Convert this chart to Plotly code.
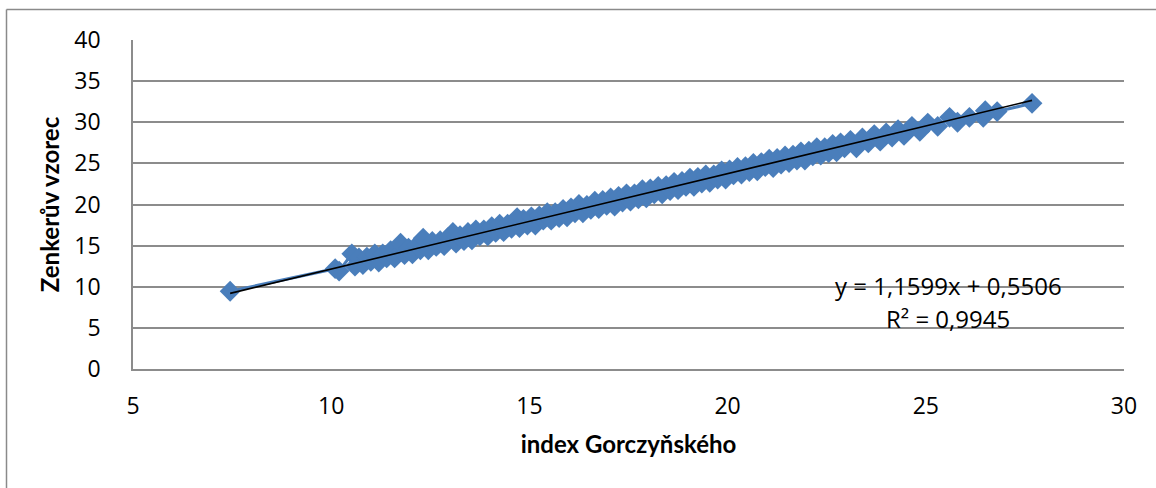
import plotly.graph_objects as go

# ---- data ----
x_vals = [7.45, 10.1, 10.2, 10.52, 10.6, 10.7, 10.8, 10.9, 11.0, 11.1, 11.2, 11.3, 11.4, 11.5, 11.6,
          11.75, 11.85, 11.95, 12.05, 12.15, 12.25, 12.32, 12.45, 12.55, 12.65, 12.75, 12.85, 12.95,
          13.07, 13.15, 13.25, 13.35, 13.45, 13.55, 13.65, 13.75, 13.85, 13.95, 14.05, 14.15, 14.25,
          14.35, 14.45, 14.55, 14.69, 14.75, 14.85, 14.95, 15.05, 15.15, 15.25, 15.35, 15.45, 15.55,
          15.65, 15.75, 15.85, 15.95, 16.05, 16.15, 16.25, 16.35, 16.45, 16.55, 16.65, 16.75, 16.85,
          16.95, 17.05, 17.15, 17.25, 17.35, 17.45, 17.55, 17.65, 17.75, 17.85, 17.95, 18.05, 18.15,
          18.25, 18.35, 18.45, 18.55, 18.65, 18.75, 18.85, 18.95, 19.05, 19.15, 19.25, 19.35, 19.45,
          19.55, 19.65, 19.75, 19.85, 19.95, 20.05, 20.15, 20.25, 20.35, 20.45, 20.55, 20.65, 20.75,
          20.85, 20.95, 21.05, 21.15, 21.25, 21.35, 21.45, 21.55, 21.65, 21.75, 21.85, 21.95, 22.05,
          22.15, 22.25, 22.35, 22.45, 22.55, 22.65, 22.75, 22.85, 22.95, 23.1, 23.25, 23.4, 23.55,
          23.7, 23.85, 24.0, 24.15, 24.3, 24.45, 24.65, 24.85, 25.05, 25.3, 25.6, 25.8, 26.1, 26.45,
          26.5, 26.8, 27.68]
y_vals = [9.45, 12.2, 11.9, 14.0, 12.5, 13.5, 12.7, 13.6, 13.1, 14.0, 13.0, 14.0, 13.5, 14.4, 13.5,
          15.3, 13.9, 14.7, 14.0, 15.0, 14.5, 15.9, 14.5, 15.5, 14.9, 15.6, 15.0, 16.0,
          16.6, 15.3, 16.2, 15.6, 16.6, 15.7, 16.9, 16.2, 16.9, 16.2, 17.3, 16.6, 17.6,
          16.7, 17.6, 17.1, 18.4, 17.2, 18.2, 17.5, 18.5, 17.5, 18.6, 18.1, 19.0, 18.1,
          19.0, 18.4, 19.4, 18.5, 19.6, 19.0, 20.0, 19.0, 19.9, 19.4, 20.4, 19.5, 20.5,
          19.9, 20.8, 19.8, 21.0, 20.3, 21.3, 20.4, 21.3, 20.7, 21.8, 20.8, 21.9, 21.3,
          22.2, 21.3, 22.3, 21.7, 22.7, 21.8, 22.8, 22.2, 23.2, 22.2, 23.3, 22.6, 23.6,
          22.7, 23.6, 23.1, 24.1, 23.1, 24.2, 23.6, 24.5, 23.7, 24.6, 24.0, 25.0, 24.1,
          25.1, 24.6, 25.5, 24.5, 25.6, 24.9, 25.9, 25.1, 26.0, 25.4, 26.4, 25.4, 26.5,
          25.9, 26.9, 26.0, 26.9, 26.3, 27.3, 26.4, 27.5, 26.9, 27.8, 26.9, 28.1, 27.5,
          28.5, 27.7, 28.7, 28.2, 29.1, 28.4, 29.5, 28.9, 29.9, 29.5, 30.6, 30.0, 30.6, 30.6,
          31.4, 31.3, 32.3]

slope = 1.1599
intercept = 0.5506
eq_text = "y = 1,1599x + 0,5506"
r2_text = "R² = 0,9945"

x_ticks = [5, 10, 15, 20, 25, 30]
y_ticks = [0, 5, 10, 15, 20, 25, 30, 35, 40]

x_title = "index Gorczyňského"
y_title = "Zenkerův vzorec"

# ---- figure ----
W, H = 1156, 488
L, R, T, B = 133, 1124, 40, 369
FONT = "Open Sans, Lato, sans-serif"
TFONT = "Lato, Open Sans, sans-serif"
BLUE = "#4a7ebb"
GRID = "#8c8c8c"

tx = [min(x_vals), max(x_vals)]
ty = [slope * v + intercept for v in tx]

fig = go.Figure()
fig.add_trace(go.Scatter(
    x=x_vals, y=y_vals, mode="lines+markers",
    line=dict(color=BLUE, width=3),
    marker=dict(symbol="diamond", size=16, color=BLUE, line=dict(width=0)),
    showlegend=False, hoverinfo="skip"))
fig.add_trace(go.Scatter(
    x=tx, y=ty, mode="lines", line=dict(color="black", width=1.6),
    showlegend=False, hoverinfo="skip"))

def px_to_paper_x(p):
    return (p - L) / (R - L)

def px_to_paper_y(p):
    return (B - p) / (B - T)

# outer chart border (only top and left visible in reference)
fig.add_shape(type="line", xref="paper", yref="paper",
              x0=px_to_paper_x(6.5), x1=px_to_paper_x(1200),
              y0=px_to_paper_y(9.5), y1=px_to_paper_y(9.5),
              line=dict(color="#8a8a8a", width=1.5))
fig.add_shape(type="line", xref="paper", yref="paper",
              x0=px_to_paper_x(6.5), x1=px_to_paper_x(6.5),
              y0=px_to_paper_y(9.5), y1=px_to_paper_y(520),
              line=dict(color="#8a8a8a", width=1.5))

fig.add_annotation(xref="paper", yref="paper",
                   x=px_to_paper_x(948), y=px_to_paper_y(285),
                   text=eq_text, showarrow=False,
                   font=dict(family=FONT, size=24, color="black"),
                   xanchor="center", yanchor="middle")
fig.add_annotation(xref="paper", yref="paper",
                   x=px_to_paper_x(948), y=px_to_paper_y(318),
                   text=r2_text, showarrow=False,
                   font=dict(family=FONT, size=24, color="black"),
                   xanchor="center", yanchor="middle")

fig.update_layout(
    width=W, height=H,
    margin=dict(l=L, r=W - R, t=T, b=H - B, autoexpand=False),
    paper_bgcolor="white", plot_bgcolor="white",
    font=dict(family=FONT, size=23, color="black"),
    xaxis=dict(range=[5, 30], tickvals=x_ticks, showgrid=False, zeroline=False,
               showline=True, linecolor=GRID, linewidth=1.5, ticks="",
               ticklabelstandoff=16,
               title=dict(text=x_title, font=dict(family=TFONT, size=24, weight="bold"), standoff=16),
               tickfont=dict(family=FONT, size=23)),
    yaxis=dict(range=[0, 40], tickvals=y_ticks, showgrid=True, gridcolor=GRID, gridwidth=1.5,
               zeroline=False, showline=True, linecolor=GRID, linewidth=1.5, ticks="",
               ticklabelstandoff=26,
               title=dict(text=y_title, font=dict(family=TFONT, size=24, weight="bold"), standoff=8),
               tickfont=dict(family=FONT, size=23)),
)

fig.write_html("out.html", post_script="document.body.style.margin='0';",
               config={"displayModeBar": False})
